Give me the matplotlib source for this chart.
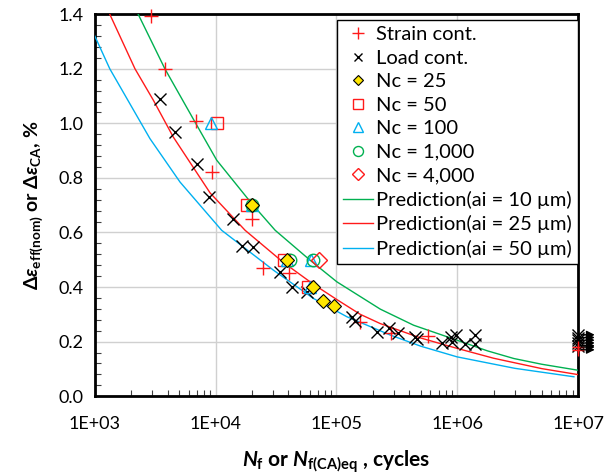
import math
import matplotlib
matplotlib.use("Agg")
import matplotlib.pyplot as plt
from matplotlib.ticker import MultipleLocator, LogLocator, NullFormatter, FuncFormatter

plt.rcParams['font.family'] = ['Lato', 'DejaVu Sans']
plt.rcParams['mathtext.fontset'] = 'custom'
plt.rcParams['mathtext.rm'] = 'Lato:bold'
plt.rcParams['mathtext.it'] = 'Lato:italic:bold'
plt.rcParams['mathtext.bf'] = 'Lato:bold'

# measured data
strain_N = [2900, 3800, 6900, 9300, 20000, 24700, 40600, 157000, 284000, 577000]
strain_de = [1.395, 1.20, 1.01, 0.82, 0.65, 0.47, 0.45, 0.27, 0.23, 0.22]
strain_runout = [0.18, 0.17]

load_N = [3460, 4600, 7000, 8800, 13900, 16600, 20400, 34000, 42800, 57000,
          135000, 143000, 218000, 270000, 325000, 450000, 468000, 750000,
          880000, 910000, 970000, 1160000, 1410000, 1410000]
load_de = [1.09, 0.97, 0.85, 0.73, 0.65, 0.55, 0.547, 0.455, 0.40, 0.382,
           0.29, 0.275, 0.235, 0.249, 0.23, 0.217, 0.21, 0.195,
           0.217, 0.199, 0.224, 0.193, 0.224, 0.193]
load_runout = [0.225, 0.215, 0.205, 0.195, 0.185]

nc25_N = [20000, 39000, 64000, 78000, 96000]
nc25_de = [0.70, 0.50, 0.40, 0.35, 0.33]
nc50_N = [10300, 18200, 37000, 58000]
nc50_de = [1.00, 0.70, 0.50, 0.40]
nc100_N = [9200, 20000, 39000, 62000, 60000]
nc100_de = [1.00, 0.70, 0.50, 0.50, 0.40]
nc1000_N = [20000, 41000, 64000]
nc1000_de = [0.70, 0.50, 0.50]
nc4000_N = [72000]
nc4000_de = [0.50]

# prediction curves
pred10_N = [2286, 3802, 6745, 10210, 19900, 31120, 60670, 100900, 230700,
            435500, 997700, 1780000, 2940000, 5000000, 10000000]
pred10_de = [1.40, 1.20, 1.005, 0.865, 0.706, 0.608, 0.498, 0.419, 0.319,
             0.260, 0.205, 0.166, 0.138, 0.117, 0.095]
pred25_N = [1330, 2150, 3050, 4460, 9000, 17540, 36400, 64600, 100000,
            157400, 230700, 500000, 1000000, 2000000, 5000000, 10000000]
pred25_de = [1.40, 1.20, 1.085, 0.95, 0.745, 0.608, 0.49, 0.41, 0.355,
             0.30, 0.266, 0.213, 0.175, 0.139, 0.101, 0.079]
pred50_N = [1000, 1330, 2860, 5070, 11220, 30060, 64600, 122200, 279300,
            500000, 997700, 3000000, 9250000]
pred50_de = [1.32, 1.20, 0.944, 0.785, 0.608, 0.462, 0.358, 0.291, 0.224,
             0.183, 0.144, 0.102, 0.071]

RED = '#FF1A1A'
GREEN = '#00B050'
BLUE = '#00B0F0'

fig = plt.figure(figsize=(6.04, 4.75), dpi=100)
ax = fig.add_axes([0.157, 0.166, 0.800, 0.804])

ax.plot(strain_N, strain_de, '+', color=RED, ms=10, mew=1.0, ls='none',
        label='Strain cont.', clip_on=False, zorder=4)
ax.plot(load_N, load_de, 'x', color='black', ms=8, mew=1.0, ls='none',
        label='Load cont.', clip_on=False, zorder=4)
ax.plot(nc25_N, nc25_de, 'D', mfc='#FFE600', mec='black', ms=7, mew=0.8,
        ls='none', label='Nc = 25', zorder=6)
ax.plot(nc50_N, nc50_de, 's', mfc='none', mec=RED, ms=9, mew=1.0,
        ls='none', label='Nc = 50', zorder=5)
ax.plot(nc100_N, nc100_de, '^', mfc='none', mec=BLUE, ms=9, mew=1.0,
        ls='none', label='Nc = 100', zorder=5)
ax.plot(nc1000_N, nc1000_de, 'o', mfc='none', mec=GREEN, ms=9, mew=1.0,
        ls='none', label='Nc = 1,000', zorder=5)
ax.plot(nc4000_N, nc4000_de, 'D', mfc='none', mec=RED, ms=8, mew=1.0,
        ls='none', label='Nc = 4,000', zorder=5)

ax.plot(pred10_N, pred10_de, '-', color=GREEN, lw=1.0,
        label='Prediction(ai = 10 µm)', zorder=3)
ax.plot(pred25_N, pred25_de, '-', color=RED, lw=1.0,
        label='Prediction(ai = 25 µm)', zorder=3)
ax.plot(pred50_N, pred50_de, '-', color=BLUE, lw=1.0,
        label='Prediction(ai = 50 µm)', zorder=3)

# run-outs at 1E+07 with arrows
ax.plot([1e7] * len(load_runout), load_runout, 'x', color='black', ms=8,
        mew=1.0, ls='none', clip_on=False, zorder=7)
ax.plot([1e7] * len(strain_runout), strain_runout, '+', color=RED, ms=9,
        mew=1.0, ls='none', clip_on=False, zorder=7)
for v in load_runout + strain_runout:
    ax.annotate('', xy=(1.45e7, v), xytext=(1e7, v),
                arrowprops=dict(arrowstyle='-|>', color='black', lw=1.0,
                                mutation_scale=12),
                annotation_clip=False, zorder=8)

ax.set_xscale('log')
ax.set_xlim(1e3, 1e7)
ax.set_ylim(0, 1.4)
ax.xaxis.set_major_locator(LogLocator(base=10))
ax.xaxis.set_minor_locator(LogLocator(base=10, subs=range(2, 10)))
ax.xaxis.set_minor_formatter(NullFormatter())
ax.xaxis.set_major_formatter(FuncFormatter(lambda x, p: '1E+%02d' % round(math.log10(x))))
ax.yaxis.set_major_locator(MultipleLocator(0.2))
ax.yaxis.set_minor_locator(MultipleLocator(0.04))
ax.yaxis.set_major_formatter(FuncFormatter(lambda y, p: '%.1f' % y))

ax.grid(True, which='major', color='#D0D0D0', lw=1.0)
ax.set_axisbelow(True)
ax.tick_params(which='both', direction='in', labelsize=13)
ax.tick_params(which='major', length=0, pad=8)
ax.tick_params(which='minor', length=4, width=0.8, color='#404040')
ax.tick_params(axis='x', which='major', pad=14)
for s in ax.spines.values():
    s.set_linewidth(2.0)
    s.set_color('black')

ax.set_xlabel(r'$N_\mathbf{f}$ or $N_\mathbf{f(CA)eq}$ , cycles',
              fontsize=15, fontweight='bold', labelpad=12)
ax.set_ylabel(r'$\mathit{\Delta\varepsilon}_\mathbf{eff(nom)}$ or $\mathit{\Delta\varepsilon}_\mathbf{CA}$, %',
              fontsize=14, fontweight='bold', labelpad=10)

leg = ax.legend(loc='upper right', bbox_to_anchor=(1.0, 0.985), borderaxespad=0,
                fontsize=14.5, frameon=True, fancybox=False, edgecolor='black',
                framealpha=1.0, handlelength=1.5, handletextpad=0.15,
                labelspacing=0.32, borderpad=0.3, markerscale=0.8)
leg.get_frame().set_linewidth(1.0)
leg.set_zorder(10)

fig.savefig('out.png', dpi=100)
